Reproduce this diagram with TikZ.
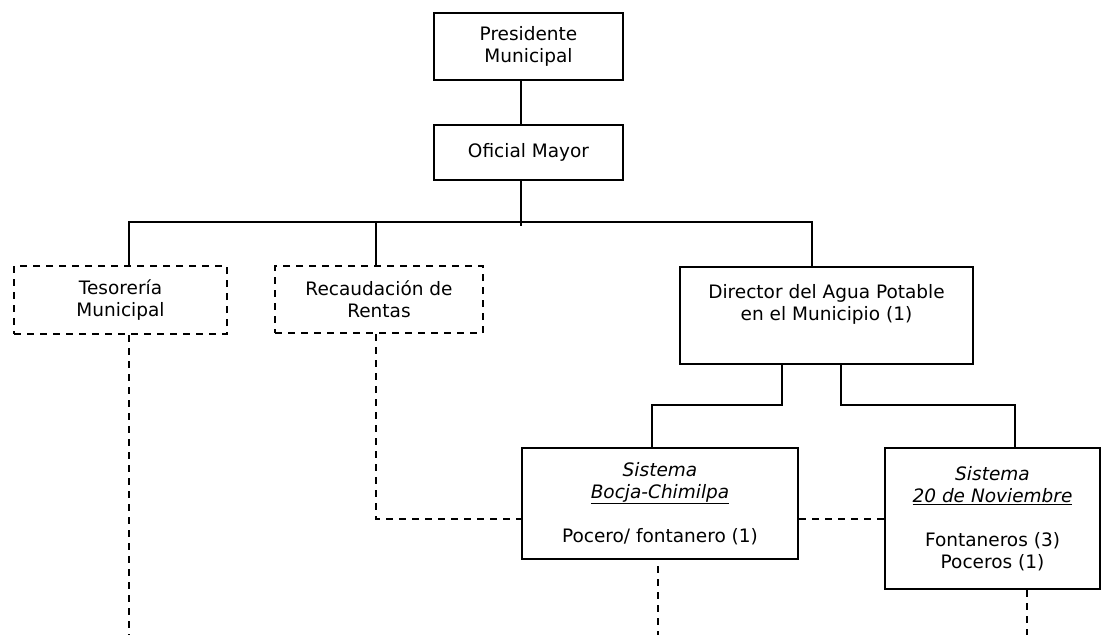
\documentclass[tikz,border=0pt]{standalone}
\usepackage{fontspec}
\setmainfont{DejaVu Sans}
\begin{document}
\begin{tikzpicture}[x=1pt,y=-1pt,
  box/.style={draw, line width=2pt, rectangle, align=center, inner sep=0pt,
    anchor=north west, font=\fontsize{18.5}{22}\selectfont},
  dbox/.style={box, dash pattern=on 7pt off 6pt},
  link/.style={line width=2pt},
  dlink/.style={line width=2pt, dash pattern=on 7pt off 6pt}]
\useasboundingbox (0,0) rectangle (1104,635);

% boxes
\node[box, minimum width=189pt, minimum height=67pt] (pres) at (433,12) {Presidente\\Municipal};
\node[box, minimum width=189pt, minimum height=55pt] (ofi) at (433,124) {Oficial Mayor};
\node[dbox, minimum width=213pt, minimum height=68pt] (teso) at (13,265) {Tesorería\\Municipal};
\node[dbox, minimum width=208pt, minimum height=67pt] (reca) at (274,265) {Recaudación de\\Rentas};
\node[box, minimum width=293pt, minimum height=97pt] (dir) at (679,266)
  {Director del Agua Potable\\en el Municipio (1)\\[5pt]\mbox{}};
\node[box, minimum width=276pt, minimum height=111pt] (bocja) at (521,447)
  {\textit{Sistema}\\\underline{\textit{Bocja-Chimilpa}}\\\mbox{}\\Pocero/ fontanero (1)};
\node[box, minimum width=215pt, minimum height=141pt] (nov) at (884,447)
  {\textit{Sistema}\\\underline{\textit{20 de Noviembre}}\\\mbox{}\\Fontaneros (3)\\Poceros (1)};

% x positions of the vertical links
\coordinate (xO) at (521,0);
\coordinate (bus) at (521,222);
\coordinate (xT) at (129,0);
\coordinate (xR) at (376,0);
\coordinate (xD) at (812,0);
\coordinate (xDL) at (782,0);
\coordinate (xDR) at (841,0);
\coordinate (xB) at (652,0);
\coordinate (xN) at (1015,0);
\coordinate (lev) at (0,405);

% solid hierarchy
\draw[link] (pres.south -| xO) -- (ofi.north -| xO);
\draw[link] (ofi.south -| xO) -- ([yshift=-4pt]bus);
\draw[link] (teso.north -| xT) |- (bus) -| (dir.north -| xD);
\draw[link] (reca.north -| xR) -- (bus -| xR);
\draw[link] (dir.south -| xDL) |- (lev -| xB) -- (bocja.north -| xB);
\draw[link] (dir.south -| xDR) |- (lev -| xN) -- (nov.north -| xN);

% dashed relations
\coordinate (endT) at (129,635);
\coordinate (endB) at (658,635);
\coordinate (endN) at (1027,635);
\draw[dlink] (teso.south -| xT) -- (endT);
\draw[dlink] (reca.south -| xR) |- ([yshift=-15.5pt]bocja.west);
\draw[dlink] ([yshift=-15.5pt]bocja.east) -- ([yshift=-15.5pt]bocja.east -| nov.west);
\draw[dlink, shorten <=6pt] (bocja.south -| endB) -- (endB);
\draw[dlink] (nov.south -| endN) -- (endN);
\end{tikzpicture}
\end{document}
